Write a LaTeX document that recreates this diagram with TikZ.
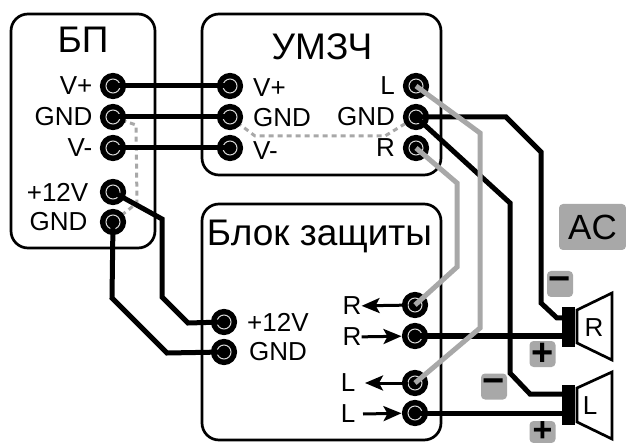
\documentclass[tikz,border=0pt]{standalone}
\usepackage{fontspec}
\setmainfont{Liberation Sans}
\usetikzlibrary{arrows.meta,positioning,backgrounds}
\definecolor{sig}{gray}{0.66}
\tikzset{
    box/.style={draw, line width=2.7pt, rounded corners=17pt},
    jack/.style={circle, minimum size=14pt, inner sep=0pt, fill=black, draw=black!15, line width=1pt,
        preaction={draw=black, line width=12pt}},
    lbl/.style={font=\fontsize{26}{30}\selectfont, inner sep=0pt},
    title/.style={font=\fontsize{37}{42}\selectfont, inner sep=0pt},
    wire/.style={line width=5pt, line join=miter},
    sigwire/.style={line width=5pt, color=sig, line join=miter},
    gndlink/.style={line width=3pt, color=sig, dash pattern=on 5pt off 4pt},
    tag/.style={fill=sig, rounded corners=4pt, inner sep=0pt, minimum width=26pt, minimum height=26pt,
        font=\fontsize{38}{38}\selectfont\bfseries},
    magnet/.style={fill=black, inner sep=0pt, minimum width=13pt, minimum height=40pt},
    cone/.style={draw, line width=2.7pt, fill=white, line join=miter},
    flow/.style={line width=3pt, -{Stealth[length=18pt,width=15pt,inset=4pt]}}
}
\begin{document}
\begin{tikzpicture}[x=1pt,y=-1pt]
\useasboundingbox (0,0) rectangle (626,443);

\draw [box] (11,14) rectangle (155,248);
\draw [box] (202,14) rectangle (441,175);
\draw [box] (202,204) rectangle (441,440);

\node (psu) [title] at (83,40) {БП};
\node (amp) [title] at (322,47) {УМЗЧ};
\node (prot) [title] at (319.5,236) {Блок защиты};

% supply
\node (pvp) [jack] at (113,86) {};
\node (pg) [jack] at (113,117) {};
\node (pvm) [jack] at (113,148) {};
\node (p12) [jack] at (113,192) {};
\node (pg2) [jack] at (113,222) {};
\node [lbl, left=13pt of pvp] {V+};
\node [lbl, left=13pt of pg] {GND};
\node [lbl, left=13pt of pvm] {V-};
\node [lbl, left=17pt of p12] {+12V};
\node [lbl, left=18pt of pg2] {GND};

% amplifier
\node (avp) [jack] at (230,86) {};
\node (ag) [jack] at (230,117) {};
\node (avm) [jack] at (230,148) {};
\node (al) [jack] at (416,86) {};
\node (ago) [jack] at (416,117) {};
\node (ar) [jack] at (416,148) {};
\node [lbl, right=15.5pt of avp, yshift=-2pt] {V+};
\node [lbl, right=15.5pt of ag, yshift=-1pt] {GND};
\node [lbl, right=15.5pt of avm, yshift=-3pt] {V-};
\node [lbl, left=13.5pt of al] {L};
\node [lbl, left=13.5pt of ago] {GND};
\node [lbl, left=13.5pt of ar] {R};

% protection
\node (b12) [jack] at (224,322) {};
\node (bg) [jack] at (224,352) {};
\node (rin) [jack] at (415,305) {};
\node (rout) [jack] at (415,336) {};
\node (lin) [jack] at (415,383) {};
\node (lout) [jack] at (415,413) {};
\node [lbl, right=15.5pt of b12] {+12V};
\node [lbl, right=17.5pt of bg] {GND};
\node (rina) [lbl] at (352,306) {R};
\node (routa) [lbl] at (352,337) {R};
\node (lina) [lbl] at (348,383) {L};
\node (louta) [lbl] at (348,414) {L};
\draw [flow] (rin) -- (rina);
\draw [flow, shorten >=6pt] (routa) -- (rout);
\draw [flow] (lin) -- ++(-50,0);
\draw [flow, shorten >=6pt] (louta) ++(15,0) -- (lout);

% speakers
\draw [cone] (577,310) -- (612,293) -- (612,360) -- (577,343) -- cycle;
\draw [cone] (577,388) -- (612,372) -- (612,439) -- (577,422) -- cycle;
\node (spr) [magnet] at (568.5,327) {};
\node (spl) [magnet] at (568.5,405) {};
\node [lbl] at (594,328) {R};
\node [lbl] at (590,406) {L};

% links
\begin{scope}[on background layer]
\draw [gndlink] (pg.center) -- (136,125) -- (137,203) -- (pg2.center);
\draw [gndlink] (ag.center) -- (255,136) -- (385,136) -- (ago.center);
\end{scope}

\draw [wire] (pvp.center) -- (avp.center);
\draw [wire] (pg.center) -- (ag.center);
\draw [wire] (pvm.center) -- (avm.center);
\draw [wire] (p12.center) -- (162,219) -- (162,297) -- (188,323) -- (b12.center);
\draw [wire] (pg2.center) -- (112,298) -- (167,353) -- (bg.center);

\draw [wire] (ago.center) -- (506,117) -- (541,152) -- (541,303) -- (557,318) -- (spr.west |- 0,318);
\draw [wire] (ago.center) -- (510,203) -- (510,373) -- (530,394) -- (spl.west |- 0,394);
\draw [wire] (rout.center) -- (spr.west |- 0,336);
\draw [wire] (lout.center) -- (spl.west |- 0,413);

\draw [sigwire] (al.center) -- (480,133) -- (480,328) -- (lin.center);
\draw [sigwire] (ar.center) -- (457,183) -- (457,267) -- (rin.center);

% tags
\node (ac) [tag, minimum width=67pt, minimum height=46pt, font=\fontsize{35}{38}\selectfont] at (592.5,227) {AC};
\node (mr) [tag] at (560,284) {−};
\node (pr) [tag] at (542.5,354) {+};
\node (ml) [tag] at (494,386.5) {−};
\node (pl) [tag, minimum height=22pt, font=\fontsize{34}{34}\selectfont\bfseries] at (542.5,432) {+};
\end{tikzpicture}
\end{document}
